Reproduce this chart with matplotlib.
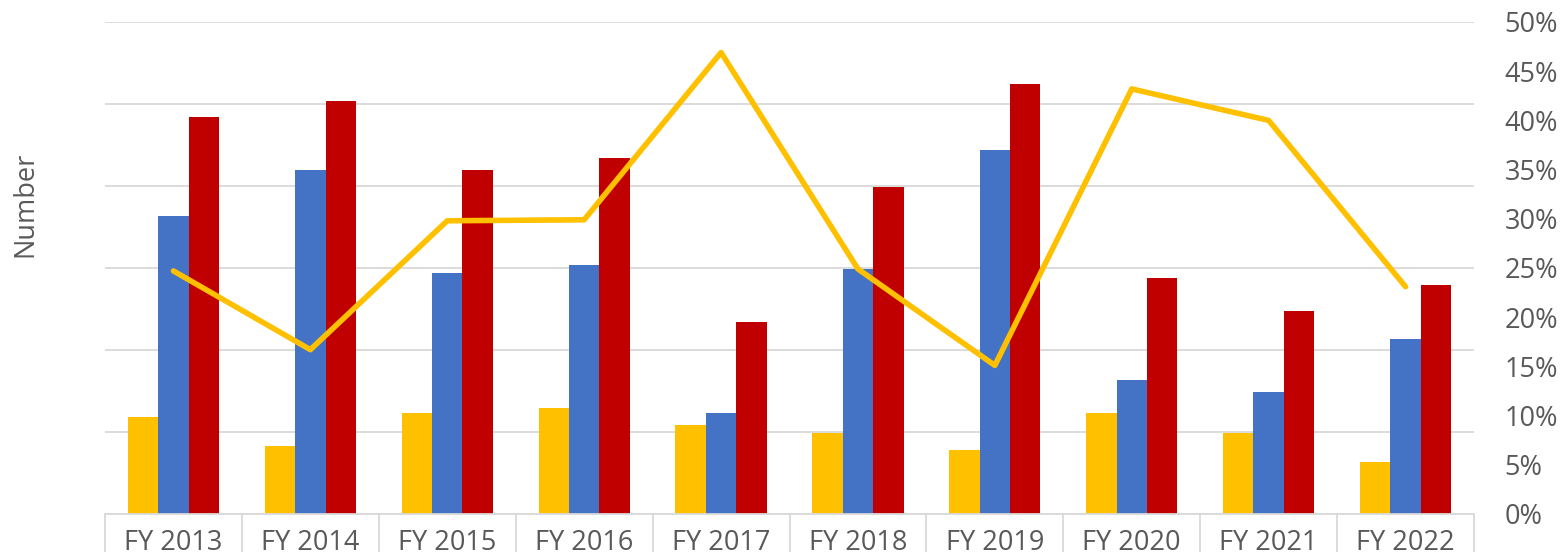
import numpy as np
import matplotlib.pyplot as plt

plt.rcParams['font.family'] = ['Open Sans', 'DejaVu Sans']

years = ['FY 2013', 'FY 2014', 'FY 2015', 'FY 2016', 'FY 2017',
         'FY 2018', 'FY 2019', 'FY 2020', 'FY 2021', 'FY 2022']
series_a = [11.8, 8.3, 12.3, 12.9, 10.8, 9.9, 7.8, 12.3, 9.9, 6.4]
series_b = [36.4, 41.9, 29.4, 30.4, 12.3, 29.9, 44.4, 16.4, 14.9, 21.4]
series_c = [48.4, 50.4, 41.9, 43.4, 23.4, 39.9, 52.4, 28.8, 24.8, 27.9]
rate_pct = [24.7, 16.7, 29.8, 29.9, 46.9, 24.9, 15.1, 43.2, 40.0, 23.1]

grey = '#595959'
fs = 19.5
fig = plt.figure(figsize=(15.64, 5.52), dpi=100)
ax = fig.add_axes([105 / 1564, 1 - 514 / 552, 1369 / 1564, 492 / 552])

x = np.arange(len(years))
w = 0.222
ax.bar(x - w, series_a, w, color='#FFC000', zorder=2)
ax.bar(x, series_b, w, color='#4472C4', zorder=2)
ax.bar(x + w, series_c, w, color='#C00000', zorder=2)

ax.set_xlim(-0.5, len(years) - 0.5)
ax.set_ylim(0, 60)
ax.set_yticks(np.arange(0, 61, 10))
ax.yaxis.grid(True, color='#d9d9d9', linewidth=1.3, zorder=0)
ax.set_axisbelow(True)
ax.tick_params(axis='y', length=0, labelleft=False)

ax.set_xticks(x)
ax.set_xticklabels(years, fontsize=fs, color=grey)
ax.set_xticks(np.arange(-0.5, len(years)), minor=True)
ax.tick_params(axis='x', which='major', length=0, pad=10.5)
ax.tick_params(axis='x', which='minor', length=30, color='#d9d9d9', width=1.3)

for s in ['top', 'left', 'right']:
    ax.spines[s].set_visible(False)
ax.spines['bottom'].set_color('#d9d9d9')
ax.spines['bottom'].set_linewidth(1.3)

ax2 = ax.twinx()
ax2.plot(x, rate_pct, color='#FFC000', linewidth=4, solid_capstyle='round', zorder=3)
ax2.set_ylim(0, 50)
ax2.set_yticks(np.arange(0, 51, 5))
ax2.set_yticklabels([f'{v}%' for v in range(0, 51, 5)], fontsize=fs, color=grey)
ax2.tick_params(axis='y', length=0, pad=22)
for s in ax2.spines.values():
    s.set_visible(False)

fig.text(25 / 1564, 1 - 204 / 552, 'Number', rotation=90, fontsize=fs,
         color=grey, ha='center', va='center')

fig.savefig('out.png', dpi=100)
